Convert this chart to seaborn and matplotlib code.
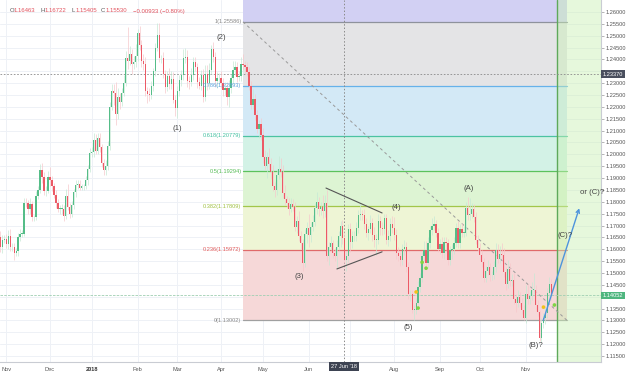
import numpy as np
import pandas as pd
import matplotlib
matplotlib.use("Agg")
import matplotlib.pyplot as plt
import matplotlib.transforms as mtransforms
from matplotlib.patches import Rectangle
import seaborn as sns

sns.set_theme(style="white")
plt.rcParams['font.family'] = ['Liberation Sans', 'DejaVu Sans']

# ---------------- data (EUR/USD daily) ----------------
start_date = "2017-10-27"
first_open = 1.1650
closes = [
    1.1608, 1.1640, 1.1645,  # Oct 17
    1.1620, 1.1655, 1.1608, 1.1610, 1.1585, 1.1592, 1.1650, 1.1665, 1.1665, 1.1795, 1.1793,
    1.1770, 1.1790, 1.1735, 1.1735, 1.1825, 1.1850, 1.1935, 1.1905, 1.1845, 1.1845, 1.1905,  # Nov
    1.1890, 1.1865, 1.1830, 1.1795, 1.1770, 1.1770, 1.1770, 1.1742, 1.1825, 1.1780, 1.1750,
    1.1785, 1.1840, 1.1870, 1.1875, 1.1860, 1.1865, 1.1865, 1.1890, 1.1940, 1.2005,  # Dec
    1.2010, 1.2060, 1.2015, 1.2070, 1.2030, 1.1965, 1.1935, 1.1950, 1.2035, 1.2200, 1.2265, 1.2260,
    1.2170, 1.2240, 1.2220, 1.2260, 1.2300, 1.2405, 1.2395, 1.2425, 1.2380, 1.2390, 1.2415,  # Jan
    1.2510, 1.2460, 1.2395, 1.2380, 1.2265, 1.2255, 1.2250, 1.2290, 1.2350, 1.2450,
    1.2505, 1.2405, 1.2405, 1.2340, 1.2285, 1.2330, 1.2295, 1.2318, 1.2230, 1.2195,  # Feb
    1.2268, 1.2315, 1.2335, 1.2405, 1.2410, 1.2310, 1.2305, 1.2335, 1.2390, 1.2370, 1.2305,
    1.2290, 1.2335, 1.2240, 1.2340, 1.2300, 1.2355, 1.2445, 1.2410, 1.2310, 1.2320, 1.2322,  # Mar
    1.2300, 1.2270, 1.2280, 1.2240, 1.2280, 1.2320, 1.2355, 1.2370, 1.2325, 1.2330, 1.2380,
    1.2375, 1.2370, 1.2345, 1.2290, 1.2210, 1.2235, 1.2165, 1.2105, 1.2130, 1.2080,  # Apr
    1.1990, 1.1950, 1.1990, 1.1960, 1.1925, 1.1865, 1.1850, 1.1915, 1.1940, 1.1925, 1.1835, 1.1810,
    1.1795, 1.1770, 1.1790, 1.1780, 1.1695, 1.1720, 1.1655, 1.1625, 1.1540, 1.1665, 1.1690,  # May
    1.1660, 1.1695, 1.1715, 1.1775, 1.1800, 1.1770, 1.1780, 1.1760, 1.1795, 1.1570, 1.1610,
    1.1625, 1.1585, 1.1570, 1.1610, 1.1655, 1.1700, 1.1646, 1.1553, 1.1570, 1.1685,  # Jun
    1.1630, 1.1655, 1.1655, 1.1690, 1.1745, 1.1750, 1.1745, 1.1705, 1.1670, 1.1685, 1.1710,
    1.1660, 1.1640, 1.1640, 1.1720, 1.1690, 1.1685, 1.1730, 1.1640, 1.1655, 1.1705, 1.1690,  # Jul
    1.1660, 1.1585, 1.1570, 1.1555, 1.1600, 1.1610, 1.1525, 1.1410, 1.1410, 1.1345, 1.1345, 1.1375,
    1.1440, 1.1480, 1.1570, 1.1595, 1.1540, 1.1625, 1.1680, 1.1700, 1.1705, 1.1670, 1.1600,  # Aug
    1.1620, 1.1585, 1.1630, 1.1625, 1.1555, 1.1595, 1.1600, 1.1625, 1.1690, 1.1625,
    1.1685, 1.1670, 1.1670, 1.1775, 1.1745, 1.1750, 1.1770, 1.1735, 1.1640, 1.1605,  # Sep
    1.1575, 1.1545, 1.1480, 1.1510, 1.1525, 1.1490, 1.1490, 1.1525, 1.1595, 1.1560, 1.1580, 1.1575,
    1.1505, 1.1455, 1.1515, 1.1465, 1.1470, 1.1390, 1.1375, 1.1400, 1.1375, 1.1345, 1.1310,  # Oct
    1.1410, 1.1390, 1.1405, 1.1430, 1.1430, 1.1365, 1.1335, 1.1225, 1.1290, 1.1310, 1.1330,
    1.1415, 1.1455, 1.1405,  # Nov
]
upper_wick_pips = [
    25, 20, 15,
    20, 25, 30, 15, 15, 15, 20, 20, 15, 20, 20, 15, 25, 15, 10, 20, 15, 25, 30, 20, 20, 25,
    40, 20, 15, 20, 15, 15, 20, 15, 30, 50, 15, 20, 15, 20, 15, 15, 10, 10, 20, 15, 20,
    20, 30, 25, 20, 20, 15, 15, 25, 20, 20, 30, 30, 45, 40, 20, 20, 35, 30, 132, 30, 20, 25, 50,
    20, 30, 20, 30, 30, 20, 25, 20, 15, 20, 50, 50, 15, 25, 15, 20, 35, 35, 30, 20,
    20, 20, 20, 40, 40, 30, 20, 30, 20, 20, 15, 20, 20, 25, 35, 35, 30, 15, 30, 20, 25, 20,
    30, 20, 25, 25, 35, 20, 40, 25, 20, 20, 30, 45, 20, 20, 25, 20, 40, 20, 20, 15, 25,
    30, 30, 20, 35, 25, 30, 20, 25, 55, 45, 30, 35, 15, 20, 25, 20, 20, 20, 40, 20, 20, 20, 25,
    60, 20, 30, 20, 40, 20, 20, 50, 35, 55, 20, 30, 15, 20, 30, 20, 20, 25, 26, 20, 20,
    25, 20, 20, 25, 20, 40, 15, 25, 25, 15, 35, 20, 35, 25, 30, 20, 25, 20, 20, 25, 25, 35,
    45, 25, 25, 20, 20, 30, 20, 20, 20, 20, 20, 20, 25, 20, 20, 40, 40, 25, 20, 30, 35, 20, 20,
    25, 30, 20, 20, 20, 20, 20, 25, 20, 30, 20, 25, 30, 25, 45, 65, 25, 20, 20, 20,
    20, 20, 20, 20, 30, 15, 20, 25, 30, 25, 35, 45, 30, 20, 40, 25, 25, 30, 20, 30, 20, 20, 20,
    40, 45, 20, 30, 70, 20, 20, 10, 20, 20, 30, 20, 30, 20,
]
lower_wick_pips = [
    20, 25, 15,
    15, 20, 15, 15, 30, 15, 20, 15, 15, 10, 15, 20, 20, 15, 15, 10, 15, 15, 25, 15, 20, 10,
    25, 20, 15, 20, 15, 20, 20, 25, 15, 15, 20, 15, 15, 20, 15, 10, 10, 15, 10, 20, 15,
    15, 20, 15, 15, 20, 20, 20, 20, 15, 15, 15, 50, 45, 20, 30, 15, 15, 10, 35, 20, 40, 20, 20,
    20, 20, 25, 25, 20, 40, 25, 15, 25, 20, 15, 15, 20, 20, 25, 20, 20, 20, 15, 35,
    40, 20, 25, 20, 20, 25, 30, 15, 20, 20, 25, 15, 20, 20, 15, 30, 25, 15, 20, 25, 30, 25,
    20, 25, 20, 30, 40, 20, 25, 20, 20, 15, 20, 20, 30, 15, 20, 20, 20, 20, 15, 35, 20,
    25, 15, 50, 25, 30, 20, 30, 20, 20, 20, 20, 25, 20, 25, 15, 20, 20, 25, 20, 25, 30, 15, 40,
    50, 30, 20, 15, 25, 30, 25, 30, 25, 20, 35, 15, 20, 20, 50, 15, 45, 25, 12, 45, 25,
    40, 25, 20, 20, 20, 20, 20, 20, 20, 30, 15, 25, 30, 65, 20, 30, 25, 20, 20, 25, 20, 20,
    20, 25, 20, 25, 20, 25, 20, 20, 30, 15, 44, 20, 25, 20, 20, 20, 20, 20, 20, 20, 20, 20, 10,
    20, 20, 25, 30, 20, 20, 35, 20, 15, 20, 20, 20, 20, 15, 20, 20, 20, 20, 20, 15,
    20, 20, 20, 20, 20, 25, 20, 15, 20, 20, 20, 20, 20, 25, 20, 20, 20, 20, 40, 20, 20, 20, 10,
    20, 20, 20, 20, 20, 25, 15, 10, 15, 20, 25, 20, 20, 20,
]

# Fibonacci retracement
fib_high = 1.25586
fib_low = 1.13002
fib_ratios = [1, 0.786, 0.618, 0.5, 0.382, 0.236, 0]
fib_names = ["1", "0.786", "0.618", "0.5", "0.382", "0.236", "0"]

# Elliott wave labels: (text, bar position, price)
wave_text = ["(1)", "(2)", "(3)", "(4)", "(5)", "(A)", "(B)?", "(C)?", "or (C)?"]
wave_pos = [88.8, 110.9, 150.1, 198.9, 204.9, 235.6, 269.2, 283.8, 297.4]
wave_price = [1.2111, 1.2491, 1.1483, 1.1774, 1.1272, 1.1854, 1.1196, 1.1660, 1.1841]

# signal dots
dot_pos = [209, 210, 212, 214, 273, 278.5]
dot_price = [1.1420, 1.1352, 1.1545, 1.1520, 1.1356, 1.1365]
dot_kind = ["y", "g", "g", "g", "y", "g"]

last_price = 1.14052
crosshair_price = 1.23370
# ---------------------------------------------------------------------------

n = min(len(closes), len(upper_wick_pips), len(lower_wick_pips))
dates = pd.bdate_range(start_date, periods=n)
c = np.array(closes[:n])
o = np.concatenate([[first_open], c[:-1]])
h = np.maximum(o, c) + np.array(upper_wick_pips[:n]) / 1e4
l = np.minimum(o, c) - np.array(lower_wick_pips[:n]) / 1e4
df = pd.DataFrame({"date": dates, "x": np.arange(n), "open": o, "high": h, "low": l, "close": c})
up = df["close"] >= df["open"]

W, H = 628, 376
fig = plt.figure(figsize=(W / 100, H / 100), dpi=100)
ax = fig.add_axes([0.0, 14 / H, 601 / W, 362 / H])
XMIN, XMAX = -0.1, 301.9
YMIN, YMAX = 1.11247, 1.26506
ax.set_xlim(XMIN, XMAX)
ax.set_ylim(YMIN, YMAX)
ax.set_facecolor("white")

# month starts (skip the partial first month)
grp = df.groupby([df["date"].dt.year, df["date"].dt.month])
month_first = grp["x"].min().values[1:]
month_dates = grp["date"].min().values[1:]

yticks = np.round(np.arange(1.115, 1.26001, 0.005), 3)
for yt in yticks:
    ax.axhline(yt, color="#eef1f6", lw=0.7, zorder=0.2)
for xm in month_first:
    ax.axvline(xm, color="#eef1f6", lw=0.7, zorder=0.2)

# Fibonacci bands
fx0, fx1 = 122, 284.8
levels = [fib_low + r * (fib_high - fib_low) for r in fib_ratios]
band_colors = ["#e4e4e6", "#d3e9f6", "#d3f2e6", "#ddf4d3", "#eef5d5", "#f6d8d8"]
line_colors = ["#8e929c", "#66b2ea", "#4cc3a2", "#5cc25c", "#a2c64a", "#e06a6a", "#a0a0a0"]
label_colors = ["#888888", "#5aa2dc", "#3fbf9f", "#55bb55", "#9fc040", "#e05a5a", "#888888"]
ax.add_patch(Rectangle((fx0, levels[0]), fx1 - fx0, 0.1, facecolor="#d2d0f3", edgecolor="none", zorder=1))
for i in range(6):
    ax.add_patch(Rectangle((fx0, levels[i + 1]), fx1 - fx0, levels[i] - levels[i + 1],
                           facecolor=band_colors[i], edgecolor="none", zorder=1))
for i, lv in enumerate(levels):
    ax.plot([fx0, fx1], [lv, lv], color=line_colors[i], lw=0.9, zorder=1.3)
    ax.text(fx0 - 0.8, lv, f"{fib_names[i]}({lv:.5f})", ha="right", va="center",
            fontsize=4.1, color=label_colors[i], zorder=5)

# future region
fut_x = 279.8
ax.add_patch(Rectangle((fut_x, YMIN - 1), XMAX - fut_x + 5, 3, facecolor="#c9f0b3",
                       alpha=0.45, edgecolor="none", zorder=1.5))
ax.axvline(fut_x, color="#5ea95a", lw=1.0, zorder=2)

# reference lines
ax.axhline(crosshair_price, color="#8a8a8a", lw=0.6, ls=(0, (2, 2)), zorder=2)
ax.axhline(last_price, color="#9fcfb2", lw=0.6, ls=(0, (3, 1.5)), zorder=2)
x_jun27 = df.loc[df["date"] == pd.Timestamp("2018-06-27"), "x"].iloc[0]
ax.axvline(x_jun27, color="#8a8a8a", lw=0.7, ls=(0, (1.5, 2)), zorder=2)
ax.plot([fx0, fx1], [levels[0], levels[-1]], color="#9a9a9a", lw=0.7, ls=(0, (3, 3)), zorder=2)

# triangle
ax.plot([163.7, 191.9], [1.1858, 1.1753], color="#555555", lw=0.8, zorder=4)
ax.plot([169.2, 191.9], [1.1517, 1.1589], color="#555555", lw=0.8, zorder=4)

# candles
ax.vlines(df.loc[up, "x"], df.loc[up, "low"], df.loc[up, "high"], color="#c6e9d5", lw=0.5, zorder=3)
ax.vlines(df.loc[~up, "x"], df.loc[~up, "low"], df.loc[~up, "high"], color="#f6c9cc", lw=0.5, zorder=3)
body_lo = np.minimum(df["open"], df["close"])
body_h = np.maximum(np.abs(df["close"] - df["open"]), 0.00025)
ax.bar(df.loc[up, "x"], body_h[up], bottom=body_lo[up], width=0.62, color="#55bd88", linewidth=0, zorder=3.2)
ax.bar(df.loc[~up, "x"], body_h[~up], bottom=body_lo[~up], width=0.62, color="#ec5a66", linewidth=0, zorder=3.2)

# signal dots
dots = pd.DataFrame({"x": dot_pos, "price": dot_price, "kind": dot_kind})
sns.scatterplot(data=dots, x="x", y="price", hue="kind", palette={"y": "#f2c21b", "g": "#7fd444"},
                s=7, linewidth=0, legend=False, ax=ax, zorder=4.5)

# blue arrow
ax.annotate("", xy=(291.4, 1.1784), xytext=(272.5, 1.1290),
            arrowprops=dict(arrowstyle="->", color="#4d94dc", lw=1.0, mutation_scale=6), zorder=5)

# wave labels
for t, xp, yp in zip(wave_text, wave_pos, wave_price):
    ax.text(xp, yp, t, ha="center", va="center", fontsize=5.6, color="#444444", zorder=5)

# axes styling
for s in ["top", "left"]:
    ax.spines[s].set_visible(False)
ax.spines["right"].set_color("#c9ccd3")
ax.spines["bottom"].set_color("#c9ccd3")
ax.spines["right"].set_linewidth(0.8)
ax.spines["bottom"].set_linewidth(0.8)
ax.yaxis.tick_right()
ax.set_yticks(yticks)
ylabels = []
for v in yticks:
    hidden = abs(v - crosshair_price) < 0.003 or abs(v - last_price) < 0.003
    ylabels.append("" if hidden else f"{v:.5f}")
ax.set_yticklabels(ylabels)
ax.tick_params(axis="y", length=2, width=0.5, color="#999999", labelsize=4.1, labelcolor="#555555", pad=1.5)

xt, xl = [], []
for xm, md in zip(month_first, month_dates):
    md = pd.Timestamp(md)
    if md.month == 7:
        continue
    xt.append(xm)
    xl.append("2018" if (md.month == 1) else md.strftime("%b"))
ax.set_xticks(xt)
ax.set_xticklabels(xl)
ax.tick_params(axis="x", length=2, width=0.5, color="#999999", labelsize=4.1, labelcolor="#555555", pad=1.5)
for lab in ax.get_xticklabels():
    if lab.get_text() == "2018":
        lab.set_fontweight("bold")
        lab.set_color("#333333")
ax.set_xlabel("")
ax.set_ylabel("")

# price boxes on the right axis
ytrans = mtransforms.blended_transform_factory(ax.transAxes, ax.transData)
ax.text(1.003, crosshair_price, f"{crosshair_price:.5f}", transform=ytrans, ha="left", va="center",
        fontsize=4.1, color="white", clip_on=False, zorder=6,
        bbox=dict(boxstyle="square,pad=0.25", fc="#4a4f5e", ec="none"))
ax.text(1.003, last_price, f"{last_price:.5f}", transform=ytrans, ha="left", va="center",
        fontsize=4.1, color="white", clip_on=False, zorder=6,
        bbox=dict(boxstyle="square,pad=0.25", fc="#4fb67f", ec="none"))
xtrans = mtransforms.blended_transform_factory(ax.transData, ax.transAxes)
ax.text(x_jun27, -0.013, "27 Jun '18", transform=xtrans, ha="center", va="center",
        fontsize=4.1, color="white", clip_on=False, zorder=6,
        bbox=dict(boxstyle="square,pad=0.35", fc="#3d4352", ec="none"))

# OHLC header
hy = 1 - 11 / H
pieces = [("O", 9.5, "#555555"), ("1.16463", 14, "#e2535e"), ("H", 40.5, "#555555"), ("1.16722", 45, "#e2535e"),
          ("L", 72, "#555555"), ("1.15405", 76, "#e2535e"), ("C", 101, "#555555"), ("1.15530", 105.5, "#e2535e"),
          ("\u22120.00933 (\u22120.80%)", 133, "#e2535e")]
for txt, px, col in pieces:
    fig.text(px / W, hy, txt, ha="left", va="center", fontsize=4.3, color=col)

fig.savefig("out.png", dpi=100)
